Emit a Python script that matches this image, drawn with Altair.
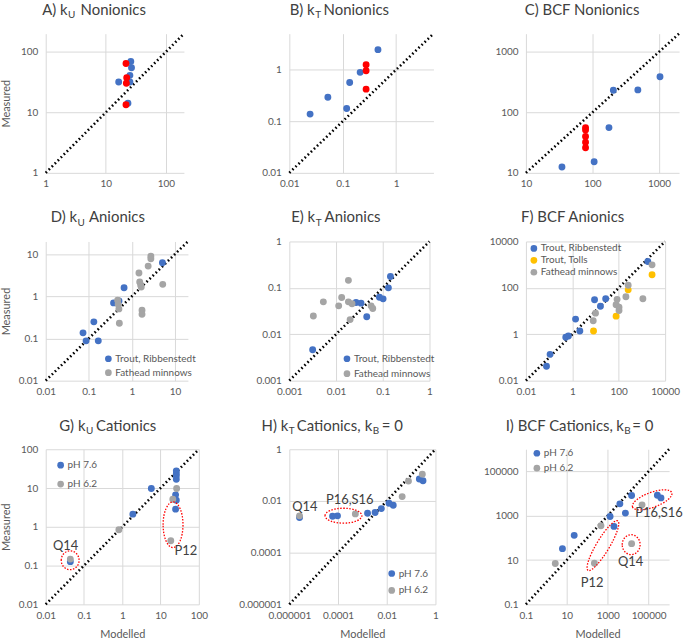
import altair as alt
import pandas as pd

FONT = "Lato"
BLUE, RED, GRAY, GOLD = "#4472C4", "#FF0000", "#A5A5A5", "#FFC000"
GRID, LABEL, TITLE = "#D9D9D9", "#595959", "#404040"

# ---------------- data ----------------
# A) kU Nonionics
A_blue_x = [26.1, 26.8, 25.2, 16.4, 25.2, 23.4]
A_blue_y = [69.5, 54.7, 40.9, 31.8, 31.8, 14.2]
A_red_x = [21.7, 22.3, 22.0, 21.7]
A_red_y = [64.4, 37.5, 30.3, 13.4]
# B) kT Nonionics
B_blue_x = [0.457, 0.212, 0.135, 0.0527, 0.1186, 0.0245]
B_blue_y = [2.45, 0.889, 0.565, 0.292, 0.177, 0.138]
B_red_x = [0.274, 0.274, 0.274]
B_red_y = [1.25, 0.957, 0.42]
# C) BCF Nonionics
C_blue_x = [1035, 481, 206, 177, 106, 34.8]
C_blue_y = [389, 235, 232, 56, 15.3, 12.5]
C_red_x = [78.7, 78.7, 78.7, 78.7, 78.7]
C_red_y = [56, 51, 40, 32, 26]
# D) kU Anionics
D_trout_x = [5.12, 0.659, 0.503, 0.376, 0.131, 0.0734, 0.0865, 0.166]
D_trout_y = [6.24, 1.60, 0.776, 0.697, 0.248, 0.136, 0.088, 0.088]
D_fat_x = [2.76, 2.76, 2.39, 1.46, 1.52, 1.60, 1.65, 5.21, 0.467, 0.48, 0.50, 1.72, 1.72, 0.512]
D_fat_y = [8.97, 7.76, 5.21, 3.56, 2.18, 1.85, 1.66, 1.92, 0.805, 0.647, 0.503, 0.466, 0.376, 0.230]
# E) kT Anionics
E_trout_x = [0.146, 0.132, 0.0849, 0.1016, 0.0268, 0.0343, 0.0454, 0.00316]
E_trout_y = [0.176, 0.1, 0.0628, 0.0579, 0.0483, 0.0468, 0.0239, 0.00465]
E_fat_x = [0.0184, 0.0132, 0.00535, 0.0184, 0.0114, 0.022, 0.0562, 0.0611, 0.00327, 0.02]
E_fat_y = [0.145, 0.0618, 0.050, 0.050, 0.041, 0.0453, 0.041, 0.036, 0.0247, 0.0207]
# F) BCF Anionics
F_trout_x = [1795, 27.4, 16.3, 9.08, 1.38, 2.11, 0.677, 0.522, 0.110, 0.077]
F_trout_y = [1365, 34, 16.1, 30.8, 4.49, 1.39, 0.849, 0.745, 0.136, 0.042]
F_tolls_x = [2735, 256, 77, 8.2]
F_tolls_y = [369, 82, 6.03, 1.39]
F_fat_x = [2735, 256, 204, 1101, 85, 77, 103, 103, 10, 7.96]
F_fat_y = [984, 130, 41.4, 34, 31.9, 18.9, 14.6, 10.5, 8.1, 3.82]
# G) kU Cationics
G_76_x = [25.8, 25.8, 25.8, 25.8, 5.74, 24.7, 25.8, 24.7, 1.89, 0.0439]
G_76_y = [27.7, 23.6, 20.6, 16.9, 9.7, 6.67, 4.86, 2.85, 2.12, 0.126]
G_62_x = [26.3, 20.9, 0.815, 18.5, 0.0439]
G_62_y = [9.7, 5.15, 0.838, 0.435, 0.147]
# H) kT Cationics
H_76_x = [0.218, 0.308, 0.0185, 0.0124, 0.006, 0.00333, 0.00163, 0.0000951, 0.0000596, 0.00000263]
H_76_y = [0.0702, 0.0605, 0.0068, 0.0081, 0.00507, 0.00356, 0.00336, 0.00265, 0.00257, 0.00229]
H_62_x = [0.289, 0.078, 0.043, 0.000513, 0.00000263]
H_62_y = [0.109, 0.0587, 0.0147, 0.00316, 0.00265]
# I) BCF Cationics
I_76_x = [267000, 401000, 14700, 3920, 7310, 1303, 2020, 22.9, 6.1]
I_76_y = [8410, 6380, 8130, 3440, 1310, 927, 330, 130, 32.7]
I_62_x = [47600, 466, 14700, 223, 2.72]
I_62_y = [3100, 353, 55, 7.18, 6.93]

# annotation labels (text, x, y) and ellipses (x, y, width px, height px, angle)
G_notes = [("Q14", 0.033, 0.324), ("P12", 45.8, 0.236)]
G_ell = [(0.0435, 0.137, 18, 19, 0), (21.2, 1.13, 20, 46, 0)]
H_notes = [("Q14", 4.33e-6, 0.00605), ("P16,S16", 0.000302, 0.0112)]
H_ell = [(0.000167, 0.00269, 37, 15, 0)]
I_notes = [("P12", 173, 0.94), ("Q14", 13200, 7.96), ("P16,S16", 321000, 1310)]
I_ell = [(148600, 5200, 42, 15, 340), (14000, 49.5, 18, 20, 0), (581, 44.7, 58, 13, 301)]

COL_LEFT = [45, 290, 528]
ROW_TOP = [32, 241, 450]


def make_panel(series, domain, ticks, width, height, row, col, title_pieces,
               legend_cfg=None, ellipses=(), notes=(), ytitle=False, xtitle=False,
               anchor=False):
    recs = []
    for name, color, xs, ys in series:
        for x, y in zip(xs, ys):
            recs.append({"x": x, "y": y, "g": name})
    df = pd.DataFrame(recs)
    names = [s[0] for s in series]
    colors = [s[1] for s in series]

    xscale = alt.Scale(type="log", domain=domain, nice=False)
    yscale = alt.Scale(type="log", domain=domain, nice=False)
    xargs = dict(values=ticks, format="~f", grid=True, gridColor=GRID, gridWidth=1,
                 domain=False, ticks=False, labelFont=FONT, labelFontSize=10,
                 labelColor=LABEL, labelPadding=6, labelFlush=False,
                 labelOverlap=False, title="")
    yargs = dict(xargs)
    yargs["labelPadding"] = 8
    if xtitle:
        xargs.update(title="Modelled", titleFont=FONT, titleFontSize=11,
                     titleColor=LABEL, titleFontWeight="normal",
                     titleY=30, titleBaseline="middle")
    if ytitle:
        yargs.update(title="Measured", titleFont=FONT, titleFontSize=11,
                     titleColor=LABEL, titleFontWeight="normal",
                     titleX=-39, titleY=height / 2, titleBaseline="middle")
    X = lambda: alt.X("x:Q", scale=xscale, axis=alt.Axis(**xargs))
    Y = lambda: alt.Y("y:Q", scale=yscale, axis=alt.Axis(**yargs))

    layers = []
    diag = alt.Chart(pd.DataFrame({"x": domain, "y": domain})).mark_line(
        color="black", strokeWidth=2.6, strokeDash=[1.6, 2.7]
    ).encode(x=X(), y=Y())
    layers.append(diag)

    if legend_cfg is None:
        leg = None
    else:
        lx, ly, rp = legend_cfg
        leg = alt.Legend(orient="none", legendX=lx, legendY=ly, title=None,
                         symbolType="circle", symbolSize=45, symbolStrokeWidth=0,
                         labelFont=FONT, labelFontSize=10, labelColor=LABEL,
                         rowPadding=rp, padding=0, labelOffset=2)
    pts = alt.Chart(df).mark_circle(size=48, opacity=1).encode(
        x=X(), y=Y(),
        color=alt.Color("g:N", scale=alt.Scale(domain=names, range=colors), legend=leg),
    )
    layers.append(pts)

    for (cx, cy, w, h, ang) in ellipses:
        m = max(w, h)
        rx, ry = w / m, h / m
        path = f"M -{rx} 0 A {rx} {ry} 0 1 1 {rx} 0 A {rx} {ry} 0 1 1 -{rx} 0 Z"
        e = alt.Chart(pd.DataFrame({"x": [cx], "y": [cy]})).mark_point(
            shape=path, size=m * m, filled=False, color=RED, strokeWidth=1.3,
            strokeDash=[1.5, 1.5], angle=ang, opacity=1
        ).encode(x=X(), y=Y())
        layers.append(e)

    if notes:
        ndf = pd.DataFrame({"t": [n[0] for n in notes], "x": [n[1] for n in notes],
                            "y": [n[2] for n in notes]})
        layers.append(alt.Chart(ndf).mark_text(
            font=FONT, fontSize=13, color=TITLE, align="center", baseline="middle"
        ).encode(x=X(), y=Y(), text="t:N"))

    left, top = COL_LEFT[col], ROW_TOP[row]
    for text, xa, ya, sub, al in title_pieces:
        layers.append(alt.Chart(alt.Data(values=[{}])).mark_text(
            text=text, font=FONT, fontSize=10 if sub else 15, color=TITLE,
            align=al, baseline="alphabetic"
        ).encode(x=alt.value(xa - left), y=alt.value(ya - top)))

    if anchor:
        layers.append(alt.Chart(alt.Data(values=[{}])).mark_rule(
            color="white", opacity=0, strokeWidth=0.01
        ).encode(x=alt.value(-left), x2=alt.value(-left + 1),
                 y=alt.value(-top), y2=alt.value(-top)))

    return alt.layer(*layers).properties(width=width, height=height)


def tp(parts, base, sub_base):
    return [(t, x, sub_base if s else base, s, al) for t, x, s, al in parts]

r1, r1s = 13.5, 16.5
r2, r2s = 221.7, 225
r3, r3s = 432, 434.7
L, R, Cc = "left", "right", "center"

A = make_panel([("s1", BLUE, A_blue_x, A_blue_y), ("s2", RED, A_red_x, A_red_y)],
               [1, 200], [1, 10, 100], 139, 140, 0, 0,
               tp([("A) k", 67, 0, R), ("U", 67.5, 1, L), ("Nonionics", 80, 0, L)], r1, r1s),
               ytitle=True, anchor=True)
B = make_panel([("s1", BLUE, B_blue_x, B_blue_y), ("s2", RED, B_red_x, B_red_y)],
               [0.01, 5], [0.01, 0.1, 1], 145, 140, 0, 1,
               tp([("B) k", 315.5, 0, R), ("T", 316, 1, L), ("Nonionics", 324.5, 0, L)], r1, r1s))
C = make_panel([("s1", BLUE, C_blue_x, C_blue_y), ("s2", RED, C_red_x, C_red_y)],
               [10, 2000], [10, 100, 1000], 154, 140, 0, 2,
               tp([("C) BCF Nonionics", 584.5, 0, Cc)], r1, r1s))
D = make_panel([("Trout, Ribbenstedt", BLUE, D_trout_x, D_trout_y),
                ("Fathead minnows", GRAY, D_fat_x, D_fat_y)],
               [0.01, 20], [0.01, 0.1, 1, 10], 143, 140, 1, 0,
               tp([("D) k", 76.5, 0, R), ("U", 77, 1, L), ("Anionics", 88.5, 0, L)], r2, r2s),
               legend_cfg=(58, 113, 4), ytitle=True)
E = make_panel([("Trout, Ribbenstedt", BLUE, E_trout_x, E_trout_y),
                ("Fathead minnows", GRAY, E_fat_x, E_fat_y)],
               [0.001, 1], [0.001, 0.01, 0.1, 1], 141, 140, 1, 1,
               tp([("E) k", 316, 0, R), ("T", 316.5, 1, L), ("Anionics", 325.5, 0, L)], r2, r2s),
               legend_cfg=(53, 113, 5))
F = make_panel([("Trout, Ribbenstedt", BLUE, F_trout_x, F_trout_y),
                ("Trout, Tolls", GOLD, F_tolls_x, F_tolls_y),
                ("Fathead minnows", GRAY, F_fat_x, F_fat_y)],
               [0.01, 10000], [0.01, 1, 100, 10000], 140, 140, 1, 2,
               tp([("F) BCF Anionics", 575, 0, Cc)], r2, r2s),
               legend_cfg=(3, 2, 2))
G = make_panel([("pH 7.6", BLUE, G_76_x, G_76_y), ("pH 6.2", GRAY, G_62_x, G_62_y)],
               [0.01, 100], [0.01, 0.1, 1, 10, 100], 154, 156, 2, 0,
               tp([("G) k", 85, 0, R), ("U", 85.5, 1, L), ("Cationics", 95.5, 0, L)], r3, r3s),
               legend_cfg=(10, 11, 9), ellipses=G_ell, notes=G_notes,
               ytitle=True, xtitle=True)
H = make_panel([("pH 7.6", BLUE, H_76_x, H_76_y), ("pH 6.2", GRAY, H_62_x, H_62_y)],
               [0.000001, 1], [0.000001, 0.0001, 0.01, 1], 147, 156, 2, 1,
               tp([("H) k", 289, 0, R), ("T", 289.5, 1, L), ("Cationics,", 297.5, 0, L),
                   ("k", 373.5, 0, R), ("B", 374, 1, L), ("= 0", 383, 0, L)], r3, r3s),
               legend_cfg=(98, 120, 7), ellipses=H_ell, notes=H_notes, xtitle=True)
I = make_panel([("pH 7.6", BLUE, I_76_x, I_76_y), ("pH 6.2", GRAY, I_62_x, I_62_y)],
               [0.1, 1000000], [0.1, 10, 1000, 100000], 144, 156, 2, 2,
               tp([("I) BCF Cationics,", 615.5, 0, R), ("k", 626.5, 0, R),
                   ("B", 627, 1, L), ("= 0", 635, 0, L)], r3, r3s),
               legend_cfg=(6, -1, 5), ellipses=I_ell, notes=I_notes, xtitle=True)

chart = alt.concat(A, B, C, D, E, F, G, H, I, columns=3,
                   spacing={"row": 69, "column": 91}, bounds="flush").resolve_scale(
    x="independent", y="independent", color="independent"
).resolve_legend(color="independent").configure_view(strokeWidth=0).properties(
    padding=0, background="white")

chart.save("out.html", embed_options={"renderer": "svg", "actions": False})
